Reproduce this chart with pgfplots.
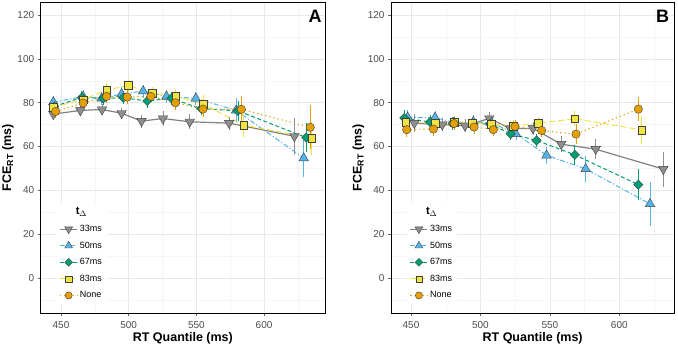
\documentclass[border=0pt]{standalone}
\usepackage{pgfplots}
\pgfplotsset{compat=1.18}
\usepackage{pgfplotstable}
\usepackage{fontspec}
\setmainfont{Liberation Sans}

\definecolor{c33}{HTML}{8F8F8F}
\definecolor{c50}{HTML}{56B4E9}
\definecolor{c67}{HTML}{009E73}
\definecolor{c83}{HTML}{F0E442}
\definecolor{cNo}{HTML}{E69F00}

% ---------- Panel A ----------
\pgfplotstableread{
x y e
444.3 74.8 2.5
464.3 76.5 2.5
480.3 76.9 2.5
494.8 75.2 2.5
509.5 71.6 3
525.3 72.8 3.5
545.1 71.3 3.5
574.2 70.7 3
622.4 64.7 8.5
}\aG
\pgfplotstableread{
x y e
444.3 80.3 3
466.4 82.8 3
480.0 82.0 3
494.8 84.0 3
510.7 85.3 3
527.9 82.9 3
549.6 82.0 3
579.3 76.5 5.5
629.3 54.7 8.5
}\aB
\pgfplotstableread{
x y e
445.0 78.3 3
465.3 82.4 3
481.2 82.0 3
496.0 82.3 3
513.7 80.8 3
531.5 82.0 3
553.5 77.3 3
580.7 76.3 4.5
631.2 64.1 6.5
}\aGr
\pgfplotstableread{
x y e
444.3 78.0 3
466.4 81.4 3
483.7 85.8 3
499.6 87.9 3
517.3 84.3 3
534.6 83.0 3.5
554.9 79.4 4
585.0 69.8 5.5
635.3 63.8 7.5
}\aY
\pgfplotstableread{
x y e
446.0 76.0 3
466.4 79.9 3
483.7 82.9 3
498.9 82.6 3
516.4 82.9 3
534.6 80.0 3.5
554.9 77.1 3.5
583.2 77.0 6
634.1 68.8 10
}\aO

% ---------- Panel B ----------
\pgfplotstableread{
x y e
452.4 70.7 4
472.5 70.0 3
488.9 69.5 3
506.4 72.8 3
521.5 68.2 3
537.8 68.3 3
558.2 61.1 3.5
583.0 58.8 4.5
631.7 49.7 8
}\bG
\pgfplotstableread{
x y e
447.6 73.3 3.5
467.3 73.2 3
481.0 71.0 3
494.9 71.3 3
508.0 70.8 3
525.6 65.8 3
547.6 56.0 4
575.8 49.8 6
622.1 33.8 10
}\bB
\pgfplotstableread{
x y e
445.2 73.0 3.5
463.7 71.2 3
480.0 70.6 3
494.5 70.5 3
507.0 70.3 3
521.8 65.8 3
540.4 62.8 3
568.0 56.2 4.5
613.7 42.6 7
}\bGr
\pgfplotstableread{
x y e
446.2 71.2 3
467.3 70.6 3
481.0 71.0 3
494.2 70.7 3
507.6 70.3 3
523.7 69.3 3
541.7 70.6 3
568.0 72.7 3.5
616.1 67.6 6.5
}\bY
\pgfplotstableread{
x y e
446.9 67.7 3.5
466.1 68.0 3
481.0 70.5 3
495.4 68.9 3
509.3 67.7 3
524.9 69.2 3
544.1 67.3 3
568.8 65.7 4.5
613.7 77.1 5.5
}\bO

\tikzset{
 l33/.style={draw=c33!90!black, solid, line width=1.2pt},
 l50/.style={draw=c50, dash pattern=on 5pt off 2pt on 1.2pt off 2pt, line width=1pt},
 l67/.style={draw=c67, dash pattern=on 4pt off 2.5pt, line width=1pt},
 l83/.style={draw=c83, dash pattern=on 6pt off 3pt, line width=1pt},
 lNo/.style={draw=cNo, dash pattern=on 1.2pt off 3pt, line width=1.1pt},
 m33/.style={mark=triangle*, mark size=5.5pt, mark options={rotate=180, solid, fill=c33, draw=black!75, line width=0.4pt}},
 m50/.style={mark=triangle*, mark size=5.5pt, mark options={solid, fill=c50, draw=black!75, line width=0.4pt}},
 m67/.style={mark=square*, mark size=3.3pt, mark options={rotate=45, solid, fill=c67, draw=black!75, line width=0.4pt}},
 m83/.style={mark=square*, mark size=3.8pt, mark options={solid, fill=c83, draw=black!75, line width=0.4pt}},
 mNo/.style={mark=*, mark size=4.2pt, mark options={solid, fill=cNo, draw=black!75, line width=0.4pt}},
}

\pgfplotsset{
 panel/.style={
  scale only axis, width=284.3pt, height=311pt,
  ymin=-16, ymax=126,
  xtick={450,500,550,600}, minor xtick={475,525,575,625},
  ytick={0,20,...,120}, minor ytick={-10,10,30,50,70,90,110},
  grid=both,
  major grid style={draw=black!9, line width=0.5pt},
  minor grid style={draw=black!4, line width=0.35pt},
  axis line style={black, line width=0.9pt},
  tick align=outside, tick pos=left,
  major tick length=3pt, minor tick length=0pt,
  major tick style={black!60, line width=0.5pt},
  tick label style={font=\fontsize{10}{12}\selectfont, text=black!70},
  xticklabel style={yshift=-1.5pt},
  /pgf/number format/assume math mode=true,
  xlabel={RT Quantile (ms)}, ylabel={FCE\textsubscript{RT} (ms)},
  label style={font=\fontsize{12.5}{14}\selectfont\bfseries},
  xlabel style={at={(axis description cs:0.5,-0.08)}, anchor=center},
  ylabel style={at={(axis description cs:-0.115,0.5)}, anchor=center},
  legend style={at={(axis description cs:0.055,0.355)}, anchor=north west, draw=none, fill=white,
    font=\fontsize{9}{11}\selectfont, row sep=4.8pt, inner sep=3pt},
  legend cell align=left,
 }
}

\newcommand{\panelplots}[5]{%
 \addplot[forget plot, mark=none, l33] table[x=x,y=y] {#1};
 \addplot[forget plot, mark=none, l50] table[x=x,y=y] {#2};
 \addplot[forget plot, mark=none, l67] table[x=x,y=y] {#3};
 \addplot[forget plot, mark=none, l83] table[x=x,y=y] {#4};
 \addplot[forget plot, mark=none, lNo] table[x=x,y=y] {#5};
 \addplot[forget plot, only marks, mark=none, error bars/.cd, y dir=both, y explicit, error mark=none, error bar style={draw=c33, solid, line width=0.8pt}] table[x=x,y=y,y error=e] {#1};
 \addplot[forget plot, only marks, mark=none, error bars/.cd, y dir=both, y explicit, error mark=none, error bar style={draw=c50, solid, line width=0.8pt}] table[x=x,y=y,y error=e] {#2};
 \addplot[forget plot, only marks, mark=none, error bars/.cd, y dir=both, y explicit, error mark=none, error bar style={draw=c67, solid, line width=0.8pt}] table[x=x,y=y,y error=e] {#3};
 \addplot[forget plot, only marks, mark=none, error bars/.cd, y dir=both, y explicit, error mark=none, error bar style={draw=c83, solid, line width=0.8pt}] table[x=x,y=y,y error=e] {#4};
 \addplot[forget plot, only marks, mark=none, error bars/.cd, y dir=both, y explicit, error mark=none, error bar style={draw=cNo, solid, line width=0.8pt}] table[x=x,y=y,y error=e] {#5};
 \addplot[forget plot, only marks, m33] table[x=x,y=y] {#1};
 \addplot[forget plot, only marks, m50] table[x=x,y=y] {#2};
 \addplot[forget plot, only marks, m67] table[x=x,y=y] {#3};
 \addplot[forget plot, only marks, m83] table[x=x,y=y] {#4};
 \addplot[forget plot, only marks, mNo] table[x=x,y=y] {#5};
 \addlegendimage{empty legend}
 \addlegendentry{\hspace*{-4pt}\fontsize{11}{13}\selectfont$\mathbf{t}_{\Delta}$}
 \addlegendimage{l33, m33, mark size=4.5pt}
 \addlegendentry{33ms}
 \addlegendimage{l50, m50, mark size=4.5pt}
 \addlegendentry{50ms}
 \addlegendimage{l67, m67, mark size=2.8pt}
 \addlegendentry{67ms}
 \addlegendimage{l83, m83, mark size=3.2pt}
 \addlegendentry{83ms}
 \addlegendimage{lNo, mNo, mark size=3.6pt}
 \addlegendentry{None}
}

\begin{document}
\begin{tikzpicture}
\path[use as bounding box] (-40.7pt,-32pt) rectangle (637.3pt,313pt);
\begin{axis}[panel, at={(0pt,0pt)}, anchor=south west, xmin=435, xmax=645]
 \panelplots{\aG}{\aB}{\aGr}{\aY}{\aO}
 \node[font=\fontsize{18}{20}\selectfont\bfseries] at (rel axis cs:0.965,0.953) {A};
\end{axis}
\begin{axis}[panel, at={(350.3pt,0pt)}, anchor=south west, width=283.3pt, xmin=435.6, xmax=639.6]
 \panelplots{\bG}{\bB}{\bGr}{\bY}{\bO}
 \node[font=\fontsize{18}{20}\selectfont\bfseries] at (rel axis cs:0.959,0.953) {B};
\end{axis}
\end{tikzpicture}
\end{document}
